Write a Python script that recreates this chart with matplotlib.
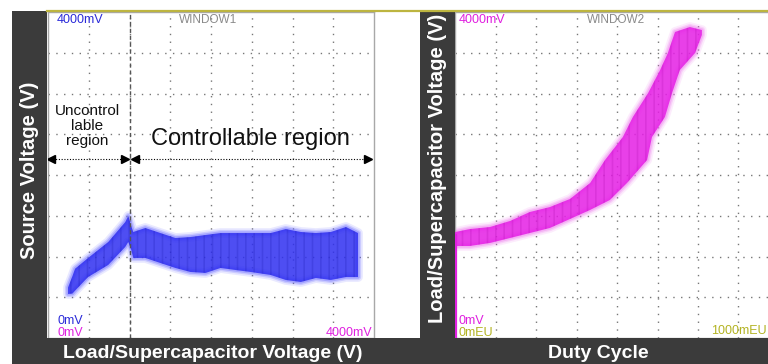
import matplotlib
matplotlib.use("Agg")
import matplotlib.pyplot as plt
from matplotlib.patches import Rectangle
from matplotlib.lines import Line2D
import numpy as np

plt.rcParams['font.family'] = ['Liberation Sans', 'DejaVu Sans']

W, H = 768, 364

# window 1: source voltage vs load voltage (mV), band envelope
w1_x = [246, 300, 332, 492, 739, 948, 985, 1022, 1046, 1194, 1379, 1563, 1748, 1933,
        2117, 2302, 2487, 2733, 2917, 3102, 3287, 3471, 3656, 3804]
w1_upper = [620, 760, 850, 982, 1178, 1423, 1497, 1374, 1301, 1350, 1288, 1227, 1239, 1264,
            1288, 1288, 1288, 1288, 1337, 1301, 1288, 1301, 1362, 1288]
w1_lower = [540, 545, 580, 748, 896, 1117, 1178, 1080, 982, 982, 920, 859, 810, 798,
            859, 834, 810, 773, 712, 687, 736, 712, 748, 748]
w1_cursor = 1009
w1_arrow_y = 2196

# window 2: load voltage (mV) vs duty cycle (mEU), edges of the trace
w2_upper_x = [0, 46, 108, 170, 231, 293, 355, 417, 463, 518, 549, 596, 633, 657, 679, 725, 762]
w2_upper_y = [1300, 1337, 1362, 1436, 1546, 1607, 1706, 1902, 2184, 2466, 2712, 3006, 3288,
              3497, 3755, 3816, 3779]
w2_lower_x = [0, 46, 108, 170, 231, 293, 355, 417, 478, 531, 593, 608, 648, 670, 694, 741, 762]
w2_lower_y = [1129, 1129, 1166, 1227, 1288, 1350, 1460, 1571, 1693, 1902, 2184, 2466, 2712,
              3006, 3288, 3497, 3718]
w2_spike_x = [4, 4]
w2_spike_y = [0, 1260]

DARK = '#3b3b3b'
BLUE = '#2b2bd9'
MAG = '#e020e0'
OLIVE = '#b3b322'
GRAYTXT = '#8a8a8a'


def px_box(x0, y0, x1, y1):
    return [x0 / W, 1 - y1 / H, (x1 - x0) / W, (y1 - y0) / H]


def scope_axes(fig, box, xmax):
    ax = fig.add_axes(px_box(*box))
    ax.set_xlim(0, xmax)
    ax.set_ylim(0, 4000)
    ax.set_xticks([])
    ax.set_yticks([])
    for s in ax.spines.values():
        s.set_color('#a8a8a8')
        s.set_linewidth(1)
    for i in range(1, 8):
        ax.axvline(xmax * i / 8, color='#777777', lw=1.0, ls=(0, (1, 4.6)), zorder=1)
        ax.axhline(500 * i, color='#777777', lw=1.0, ls=(0, (1, 4.6)), zorder=1)
    return ax


def band(ax, ux, uy, lx, ly, face, halo, streak):
    px = np.concatenate([ux, lx[::-1]])
    py = np.concatenate([uy, ly[::-1]])
    # soft persistence edge: stacked translucent strokes
    for lw, a in [(7, 0.15), (4.5, 0.25), (2.5, 0.4)]:
        ax.fill(px, py, facecolor='none', edgecolor=halo, lw=lw, alpha=a, zorder=2,
                joinstyle='round')
    ax.fill(px, py, facecolor=face, edgecolor='none', alpha=0.85, zorder=3)
    plt.rcParams['hatch.linewidth'] = 1.2
    ax.fill(px, py, facecolor='none', edgecolor=streak, lw=0, hatch='||', alpha=0.18, zorder=3)


fig = plt.figure(figsize=(W / 100, H / 100), dpi=100)
fig.patch.set_facecolor('white')

# dark frame strips
for r in [(12, 11, 47, 338), (420, 11, 455, 338), (12, 338, 768, 364)]:
    fig.add_artist(Rectangle((r[0] / W, 1 - r[3] / H), (r[2] - r[0]) / W, (r[3] - r[1]) / H,
                             transform=fig.transFigure, facecolor=DARK, edgecolor='none'))
fig.add_artist(Line2D([47 / W, 1], [1 - 10.5 / H, 1 - 10.5 / H], transform=fig.transFigure,
                      color='#bdb540', lw=1.6))

# ---- window 1
ax1 = scope_axes(fig, (48, 12, 374, 338), 4000)
band(ax1, np.array(w1_x), np.array(w1_upper), np.array(w1_x), np.array(w1_lower),
     '#2f2ff0', '#7070ff', '#1010a0')
ax1.axvline(w1_cursor, color='#555555', lw=1.0, ls=(0, (3, 2)), zorder=4)

# arrows
ax1.plot([20, 960], [w1_arrow_y] * 2, color='k', lw=0.8, ls=(0, (1, 1.5)), zorder=4)
ax1.plot(40, w1_arrow_y, marker='<', color='k', ms=6, zorder=5)
ax1.plot(950, w1_arrow_y, marker='>', color='k', ms=6, zorder=5)
ax1.plot([1060, 3960], [w1_arrow_y] * 2, color='k', lw=0.8, ls=(0, (1, 1.5)), zorder=4)
ax1.plot(1070, w1_arrow_y, marker='<', color='k', ms=6, zorder=5)
ax1.plot(3930, w1_arrow_y, marker='>', color='k', ms=6, zorder=5)

ax1.text(480, 2600, 'Uncontrol\nlable\nregion', ha='center', va='center', fontsize=11,
         linespacing=1.12, color='#111111', zorder=6)
ax1.text(2490, 2440, 'Controllable region', ha='center', va='center', fontsize=17,
         color='#111111', zorder=6)

ax1.text(0.028, 0.995, '4000mV', transform=ax1.transAxes, color=BLUE, fontsize=9, va='top')
ax1.text(0.49, 0.995, 'WINDOW1', transform=ax1.transAxes, color=GRAYTXT, fontsize=8.5,
         va='top', ha='center')
ax1.text(0.028, 0.035, '0mV', transform=ax1.transAxes, color=BLUE, fontsize=9, va='bottom')
ax1.text(0.028, -0.002, '0mV', transform=ax1.transAxes, color=MAG, fontsize=9, va='bottom')
ax1.text(0.995, -0.002, '4000mV', transform=ax1.transAxes, color=MAG, fontsize=9,
         va='bottom', ha='right')

# ---- window 2
ax2 = scope_axes(fig, (455, 12, 779, 338), 1000)
band(ax2, np.array(w2_upper_x), np.array(w2_upper_y), np.array(w2_lower_x),
     np.array(w2_lower_y), '#e51ee5', '#f080f0', '#a000a0')
ax2.plot(w2_spike_x, w2_spike_y, color=MAG, lw=1.6, zorder=4)

ax2.text(0.012, 0.995, '4000mV', transform=ax2.transAxes, color=MAG, fontsize=9, va='top')
ax2.text(0.497, 0.995, 'WINDOW2', transform=ax2.transAxes, color=GRAYTXT, fontsize=8.5,
         va='top', ha='center')
ax2.text(0.012, 0.035, '0mV', transform=ax2.transAxes, color=MAG, fontsize=9, va='bottom')
ax2.text(0.012, -0.002, '0mEU', transform=ax2.transAxes, color=OLIVE, fontsize=9, va='bottom')
ax2.text(767 / W, 1 - 337 / H, '1000mEU', transform=fig.transFigure, color=OLIVE, fontsize=9,
         va='bottom', ha='right')

# frame labels
fig.text(29.5 / W, 1 - 170 / H, 'Source Voltage (V)', rotation=90, color='white',
         fontsize=14.5, fontweight='bold', ha='center', va='center')
fig.text(437.5 / W, 1 - 168 / H, 'Load/Supercapacitor Voltage (V)', rotation=90, color='white',
         fontsize=14.5, fontweight='bold', ha='center', va='center')
fig.text(213 / W, 1 - 353 / H, 'Load/Supercapacitor Voltage (V)', color='white',
         fontsize=14, fontweight='bold', ha='center', va='center')
fig.text(598 / W, 1 - 353 / H, 'Duty Cycle', color='white',
         fontsize=14, fontweight='bold', ha='center', va='center')

fig.savefig('out.png', dpi=100)
